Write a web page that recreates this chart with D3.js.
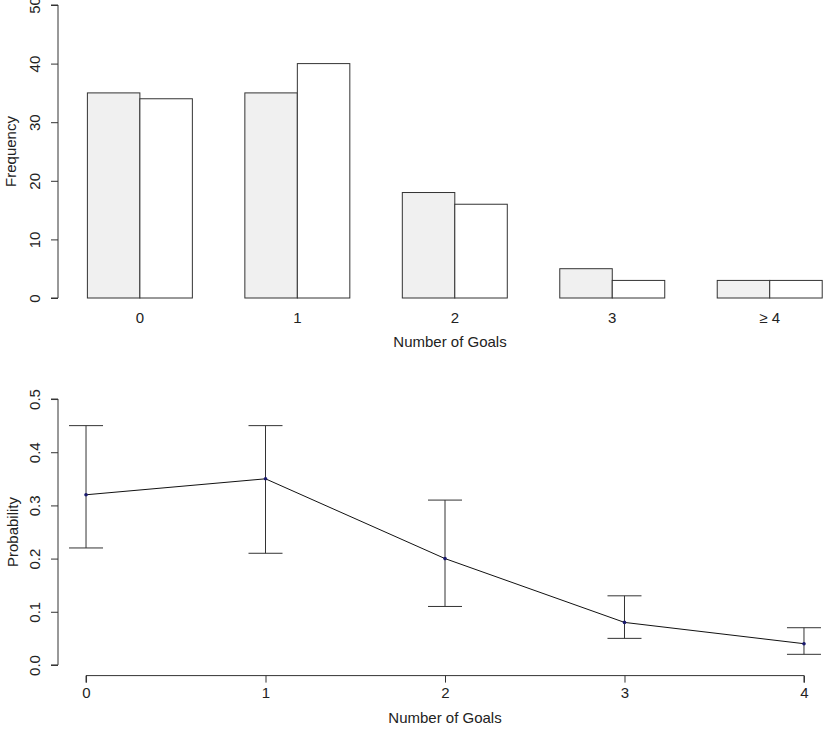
<!DOCTYPE html>
<html><head><meta charset="utf-8">
<script src="https://cdn.jsdelivr.net/npm/d3@7"></script>
<style>body{margin:0;background:#fff}svg{display:block}text{font-family:"Liberation Sans",Arial,sans-serif;fill:#222}</style>
</head><body><svg id="c" width="828" height="734"></svg>
<script>
const categories = ["0","1","2","3","\u2265 4"];
const seriesA = [35,35,18,5,3];
const seriesB = [34,40,16,3,3];
const freqTicks = [0,10,20,30,40,50];
const goals = [0,1,2,3,4];
const prob = [0.32,0.35,0.20,0.08,0.04];
const lower = [0.22,0.21,0.11,0.05,0.02];
const upper = [0.45,0.45,0.31,0.13,0.07];
const probTicks = [0,0.1,0.2,0.3,0.4,0.5];

const svg = d3.select("#c");
const fs = 15;
const stroke = "#333";

// ---------- top: bar chart ----------
const xb = d3.scaleLinear().domain([0.44,15.56]).range([58,851.6]);
const yb = d3.scaleLinear().domain([0,50]).range([298,5]);
const gTop = svg.append("g");
categories.forEach((c,i)=>{
  const x0 = 1 + i*3;
  gTop.append("rect").attr("x",xb(x0)).attr("y",yb(seriesA[i]))
    .attr("width",xb(x0+1)-xb(x0)).attr("height",yb(0)-yb(seriesA[i]))
    .attr("fill","#f0f0f0").attr("stroke",stroke).attr("stroke-width",1);
  gTop.append("rect").attr("x",xb(x0+1)).attr("y",yb(seriesB[i]))
    .attr("width",xb(x0+2)-xb(x0+1)).attr("height",yb(0)-yb(seriesB[i]))
    .attr("fill","#fff").attr("stroke",stroke).attr("stroke-width",1);
  gTop.append("text").attr("x",xb(x0+1)).attr("y",322.7).attr("text-anchor","middle")
    .attr("font-size",fs).text(c);
});
const yAxisTop = gTop.append("g").attr("transform","translate(58,0)")
  .call(d3.axisLeft(yb).tickValues(freqTicks).tickSize(7).tickFormat(d3.format("d")));
yAxisTop.select(".domain").attr("stroke",stroke).attr("d",`M-7,${yb(0)}H0V${yb(50)}H-7`);
yAxisTop.selectAll(".tick line").attr("stroke",stroke);
yAxisTop.selectAll(".tick text").attr("font-size",fs).attr("fill","#222")
  .attr("transform","translate(-18.5,0) rotate(-90)").attr("x",0).attr("y",0).attr("dy","0").attr("text-anchor","middle");
gTop.append("text").attr("transform",`translate(16,${(yb(0)+yb(50))/2}) rotate(-90)`)
  .attr("text-anchor","middle").attr("font-size",fs).text("Frequency");
gTop.append("text").attr("x",450).attr("y",347).attr("text-anchor","middle").attr("font-size",fs).text("Number of Goals");

// ---------- bottom: probability with error bars ----------
const xp = d3.scaleLinear().domain([-0.16,4.16]).range([57.3,832.7]);
const yp = d3.scaleLinear().domain([-0.02,0.52]).range([675.6,388.4]);
const gBot = svg.append("g");
const cap = 17;
goals.forEach((g,i)=>{
  const x = xp(g);
  gBot.append("line").attr("x1",x).attr("x2",x).attr("y1",yp(lower[i])).attr("y2",yp(upper[i])).attr("stroke",stroke);
  gBot.append("line").attr("x1",x-cap).attr("x2",x+cap).attr("y1",yp(upper[i])).attr("y2",yp(upper[i])).attr("stroke",stroke);
  gBot.append("line").attr("x1",x-cap).attr("x2",x+cap).attr("y1",yp(lower[i])).attr("y2",yp(lower[i])).attr("stroke",stroke);
});
gBot.append("path").datum(goals.map((g,i)=>[g,prob[i]]))
  .attr("d",d3.line().x(d=>xp(d[0])).y(d=>yp(d[1])))
  .attr("fill","none").attr("stroke","#111").attr("stroke-width",1);
gBot.selectAll("circle").data(goals).join("circle")
  .attr("cx",d=>xp(d)).attr("cy",(d,i)=>yp(prob[i])).attr("r",1.8).attr("fill","#1a1a6e");

const yAxisBot = gBot.append("g").attr("transform","translate(58,0)")
  .call(d3.axisLeft(yp).tickValues(probTicks).tickSize(7).tickFormat(d3.format(".1f")));
yAxisBot.select(".domain").attr("stroke",stroke).attr("d",`M-7,${yp(0)}H0V${yp(0.5)}H-7`);
yAxisBot.selectAll(".tick line").attr("stroke",stroke);
yAxisBot.selectAll(".tick text").attr("font-size",fs).attr("fill","#222")
  .attr("transform","translate(-18.5,0) rotate(-90)").attr("x",0).attr("y",0).attr("dy","0").attr("text-anchor","middle");

const xAxisBot = gBot.append("g").attr("transform","translate(0,675.6)")
  .call(d3.axisBottom(xp).tickValues(goals).tickSize(7).tickFormat(d3.format("d")));
xAxisBot.select(".domain").attr("stroke",stroke).attr("d",`M${xp(0)},7V0H${xp(4)}V7`);
xAxisBot.selectAll(".tick line").attr("stroke",stroke);
xAxisBot.selectAll(".tick text").attr("font-size",fs).attr("fill","#222").attr("y",22.9).attr("dy","0");

gBot.append("text").attr("transform",`translate(17.5,${(yp(0)+yp(0.5))/2}) rotate(-90)`)
  .attr("text-anchor","middle").attr("font-size",fs).text("Probability");
gBot.append("text").attr("x",445).attr("y",723).attr("text-anchor","middle").attr("font-size",fs).text("Number of Goals");
</script></body></html>
